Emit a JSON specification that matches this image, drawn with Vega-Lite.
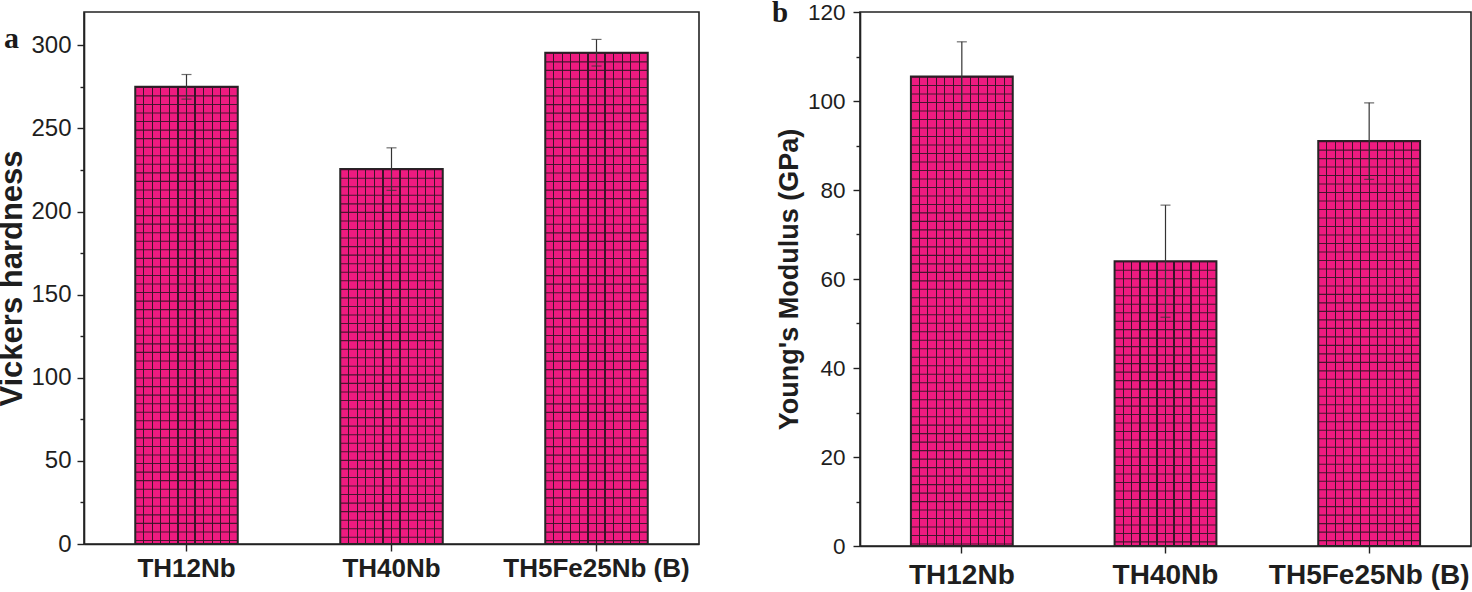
{
  "$schema": "https://vega.github.io/schema/vega-lite/v6.json",
  "padding": {"left": -4, "top": -2, "right": 0, "bottom": 0},
  "background": "white",
  "datasets": {
    "hardness": [
      {"sample": "TH12Nb", "hv": 275, "err": 7.4},
      {"sample": "TH40Nb", "hv": 225.5, "err": 12.8},
      {"sample": "TH5Fe25Nb (B)", "hv": 295.5, "err": 8}
    ],
    "modulus": [
      {"sample": "TH12Nb", "E": 105.5, "err": 7.8},
      {"sample": "TH40Nb", "E": 64, "err": 12.6},
      {"sample": "TH5Fe25Nb (B)", "E": 91, "err": 8.6}
    ]
  },
  "spacing": 71,
  "hconcat": [
    {
      "width": 615,
      "height": 532,
      "data": {"name": "hardness"},
      "title": {"text": "a", "orient": "top", "anchor": "start", "frame": "group", "dx": -80, "dy": 57, "font": "Liberation Serif", "fontWeight": "bold", "fontSize": 30, "color": "#1a1a1a"},
      "encoding": {
        "x": {"field": "sample", "type": "nominal", "sort": null, "scale": {"paddingInner": 0.5, "paddingOuter": 0.25},
          "axis": {"title": null, "labelAngle": 0, "labelFontSize": 26, "labelFontWeight": "bold", "labelLimit": 400, "tickSize": 7, "labelPadding": 4}},
        "y": {"field": "hv", "type": "quantitative", "scale": {"domain": [0, 320], "nice": false},
          "axis": {"title": "Vickers hardness", "titleFontSize": 31, "titleFontWeight": "bold", "titlePadding": 2,
            "values": [0, 25, 50, 75, 100, 125, 150, 175, 200, 225, 250, 275, 300],
            "labelExpr": "datum.value % 50 === 0 ? datum.label : ''",
            "tickSize": 7,
            "tickDash": {"condition": {"test": "datum.value % 50 === 0", "value": [8, 0]}, "value": [4, 10]},
            "labelFontSize": 24, "labelPadding": 6}}
      },
      "layer": [
        {"mark": {"type": "bar"}},
        {
          "mark": {"type": "rule", "strokeWidth": 102.5, "strokeDash": [1.1, 7.45], "strokeCap": "butt", "color": "#3a1428", "opacity": 0.9},
          "encoding": {"y2": {"datum": 0}}
        },
        {
          "mark": {"type": "errorbar", "ticks": {"size": 10, "color": "#333", "thickness": 1.2}, "rule": {"color": "#333", "strokeWidth": 1.2}},
          "encoding": {"yError": {"field": "err"}}
        }
      ]
    },
    {
      "width": 611,
      "height": 534,
      "data": {"name": "modulus"},
      "title": {"text": "b", "orient": "top", "anchor": "start", "frame": "group", "dx": -88, "dy": 31, "font": "Liberation Serif", "fontWeight": "bold", "fontSize": 29, "color": "#1a1a1a"},
      "encoding": {
        "x": {"field": "sample", "type": "nominal", "sort": null, "scale": {"paddingInner": 0.5, "paddingOuter": 0.25},
          "axis": {"title": null, "labelAngle": 0, "labelFontSize": 28, "labelFontWeight": "bold", "labelLimit": 400, "tickSize": 7, "labelPadding": 8}},
        "y": {"field": "E", "type": "quantitative", "scale": {"domain": [0, 120], "nice": false},
          "axis": {"title": "Young's Modulus (GPa)", "titleFontSize": 27, "titleFontWeight": "bold", "titlePadding": 4,
            "values": [0, 10, 20, 30, 40, 50, 60, 70, 80, 90, 100, 110, 120],
            "labelExpr": "datum.value % 20 === 0 ? datum.label : ''",
            "tickSize": 7,
            "tickDash": {"condition": {"test": "datum.value % 20 === 0", "value": [8, 0]}, "value": [4, 10]},
            "labelFontSize": 22.5, "labelPadding": 8}}
      },
      "layer": [
        {"mark": {"type": "bar"}},
        {
          "mark": {"type": "rule", "strokeWidth": 101.8, "strokeDash": [1.1, 7.39], "strokeCap": "butt", "color": "#3a1428", "opacity": 0.9},
          "encoding": {"y2": {"datum": 0}}
        },
        {
          "mark": {"type": "errorbar", "ticks": {"size": 10, "color": "#333", "thickness": 1.2}, "rule": {"color": "#333", "strokeWidth": 1.2}},
          "encoding": {"yError": {"field": "err"}}
        }
      ]
    }
  ],
  "config": {
    "view": {"stroke": "#222", "strokeWidth": 1.6},
    "font": "Liberation Sans",
    "axis": {"domainColor": "#222", "domainWidth": 1.6, "tickColor": "#222", "tickWidth": 1.4, "labelColor": "#1e1e1e", "titleColor": "#1e1e1e", "grid": false, "labelFont": "Liberation Sans", "titleFont": "Liberation Sans"},
    "bar": {
      "stroke": "#262626",
      "strokeWidth": 2,
      "fill": {
        "gradient": "linear", "x1": 0, "y1": 0, "x2": 1, "y2": 0,
        "stops": [
          {"offset": 0, "color": "#EE1B80"},
          {"offset": 0.0778, "color": "#EE1B80"}, {"offset": 0.0778, "color": "#3a1428"}, {"offset": 0.0888, "color": "#3a1428"}, {"offset": 0.0888, "color": "#EE1B80"},
          {"offset": 0.1612, "color": "#EE1B80"}, {"offset": 0.1612, "color": "#3a1428"}, {"offset": 0.1722, "color": "#3a1428"}, {"offset": 0.1722, "color": "#EE1B80"},
          {"offset": 0.2445, "color": "#EE1B80"}, {"offset": 0.2445, "color": "#3a1428"}, {"offset": 0.2555, "color": "#3a1428"}, {"offset": 0.2555, "color": "#EE1B80"},
          {"offset": 0.3278, "color": "#EE1B80"}, {"offset": 0.3278, "color": "#3a1428"}, {"offset": 0.3388, "color": "#3a1428"}, {"offset": 0.3388, "color": "#EE1B80"},
          {"offset": 0.4112, "color": "#EE1B80"}, {"offset": 0.4112, "color": "#3a1428"}, {"offset": 0.4222, "color": "#3a1428"}, {"offset": 0.4222, "color": "#EE1B80"},
          {"offset": 0.4945, "color": "#EE1B80"}, {"offset": 0.4945, "color": "#3a1428"}, {"offset": 0.5055, "color": "#3a1428"}, {"offset": 0.5055, "color": "#EE1B80"},
          {"offset": 0.5778, "color": "#EE1B80"}, {"offset": 0.5778, "color": "#3a1428"}, {"offset": 0.5888, "color": "#3a1428"}, {"offset": 0.5888, "color": "#EE1B80"},
          {"offset": 0.6612, "color": "#EE1B80"}, {"offset": 0.6612, "color": "#3a1428"}, {"offset": 0.6722, "color": "#3a1428"}, {"offset": 0.6722, "color": "#EE1B80"},
          {"offset": 0.7445, "color": "#EE1B80"}, {"offset": 0.7445, "color": "#3a1428"}, {"offset": 0.7555, "color": "#3a1428"}, {"offset": 0.7555, "color": "#EE1B80"},
          {"offset": 0.8278, "color": "#EE1B80"}, {"offset": 0.8278, "color": "#3a1428"}, {"offset": 0.8388, "color": "#3a1428"}, {"offset": 0.8388, "color": "#EE1B80"},
          {"offset": 0.9112, "color": "#EE1B80"}, {"offset": 0.9112, "color": "#3a1428"}, {"offset": 0.9222, "color": "#3a1428"}, {"offset": 0.9222, "color": "#EE1B80"},
          {"offset": 1, "color": "#EE1B80"}
        ]
      }
    }
  }
}
